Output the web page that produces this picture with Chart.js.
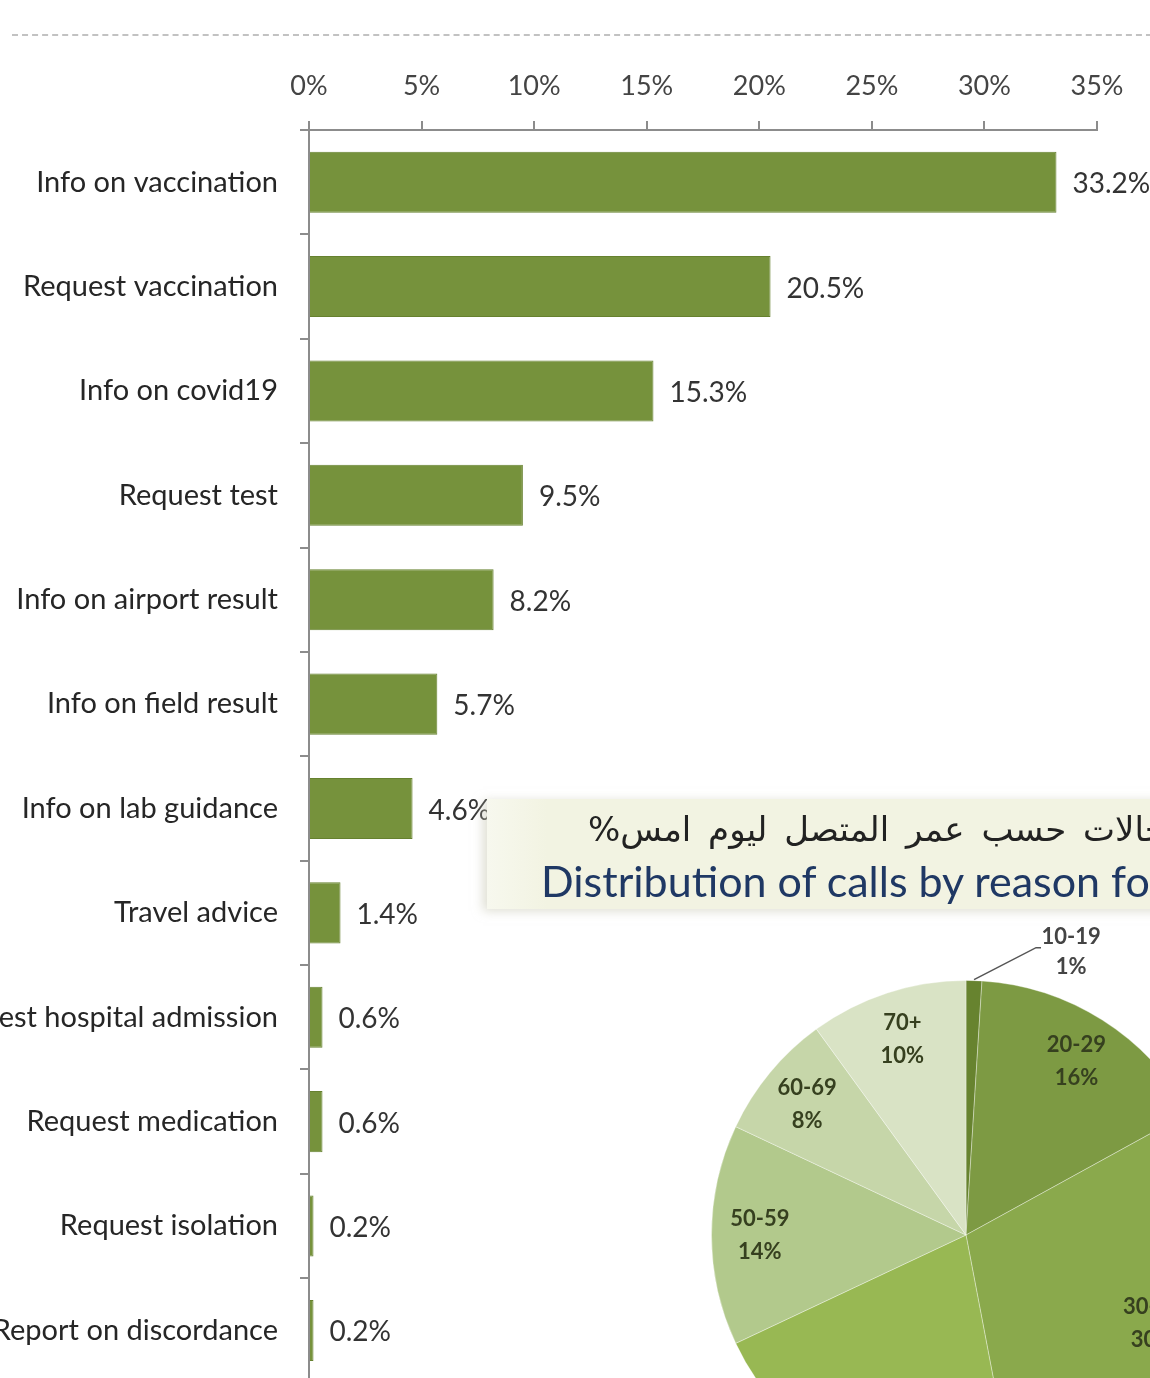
<!DOCTYPE html>
<html>
<head>
<meta charset="utf-8">
<script src="https://cdn.jsdelivr.net/npm/chart.js@4.4.1/dist/chart.umd.min.js"></script>
<style>
  html, body { margin: 0; padding: 0; background: #fff; overflow: hidden; width: 1150px; height: 1378px; }
  #wrap { position: relative; width: 1150px; height: 1378px; overflow: hidden; }
  #dash { position: absolute; left: 12px; top: 34px; width: 1150px; border-top: 2px dashed #c2c2c2; }
  #bars { position: absolute; left: 0; top: 0; }
  #titlebox { position: absolute; left: 487px; top: 799px; width: 720px; height: 110px;
              background: linear-gradient(to right, #f7f8ee 0px, #f2f3e2 60px, #f2f3e2 100%);
              box-shadow: -4px 2px 10px rgba(200,200,180,0.6); }
  #ar { position: absolute; left: 588px; top: 809px; white-space: nowrap; direction: rtl;
        font-family: "DejaVu Sans", sans-serif; font-size: 34px; word-spacing: 6px; color: #222; }
  #en { position: absolute; left: 541px; top: 855px; white-space: nowrap;
        font-family: Lato, sans-serif; font-size: 43px; color: #1f3864; }
  #pie { position: absolute; left: 616px; top: 885px; }
</style>
</head>
<body>
<div id="wrap">
  <div id="dash"></div>
  <canvas id="bars" width="1150" height="1422"></canvas>
  <div id="titlebox"></div>
  <div id="ar">توزيع الحالات حسب عمر المتصل ليوم امس%</div>
  <div id="en">Distribution of calls by reason for</div>
  <canvas id="pie" width="700" height="700"></canvas>
</div>
<script>
// ── DATOS ──
var reasonLabels = ['Info on vaccination', 'Request vaccination', 'Info on covid19', 'Request test',
    'Info on airport result', 'Info on field result', 'Info on lab guidance', 'Travel advice',
    'Request hospital admission', 'Request medication', 'Request isolation', 'Report on discordance'];
var reasonValues = [33.2, 20.5, 15.3, 9.5, 8.2, 5.7, 4.6, 1.4, 0.6, 0.6, 0.2, 0.2];
var xTicks = [0, 5, 10, 15, 20, 25, 30, 35];

var ageLabels = ['10-19', '20-29', '30-39', '40-49', '50-59', '60-69', '70+'];
var ageValues = [1, 16, 30, 21, 14, 8, 10];
var ageColors = ['#67832f', '#7d9a43', '#8aa94c', '#98b853', '#b2c98c', '#c6d6a9', '#d9e3c5'];

// etiquetas de valor al final de cada barra
var barValuePlugin = {
    id: 'barValues',
    afterDatasetsDraw: function(chart) {
        var ctx = chart.ctx;
        var meta = chart.getDatasetMeta(0);
        ctx.save();
        ctx.font = '28px Lato';
        ctx.fillStyle = '#333';
        ctx.textAlign = 'left';
        ctx.textBaseline = 'middle';
        meta.data.forEach(function(bar, i) {
            ctx.fillText(reasonValues[i].toFixed(1) + '%', bar.x + 16, bar.y + 2);
        });
        ctx.restore();
    }
};

new Chart(document.getElementById('bars'), {
    type: 'bar',
    data: {
        labels: reasonLabels,
        datasets: [{
            data: reasonValues,
            backgroundColor: '#76923c',
            borderColor: '#66812f',
            borderWidth: 1,
            categoryPercentage: 1,
            barPercentage: 0.585
        }]
    },
    options: {
        indexAxis: 'y',
        responsive: false,
        animation: false,
        layout: { padding: { left: 0, right: 53, top: 0, bottom: 6 } },
        plugins: { legend: { display: false }, tooltip: { enabled: false } },
        scales: {
            x: {
                position: 'top',
                min: 0, max: 35,
                afterBuildTicks: function(s) { s.ticks = xTicks.map(function(v){ return { value: v }; }); },
                afterFit: function(s) { s.height = 130; },
                border: { color: '#8c8c8c', width: 2 },
                grid: { drawOnChartArea: false, tickLength: 9, color: '#8c8c8c', lineWidth: 2 },
                ticks: {
                    callback: function(v) { return v + '%'; },
                    font: { family: 'Lato', size: 27 },
                    color: '#444',
                    padding: 19,
                    maxRotation: 0
                }
            },
            y: {
                afterFit: function(s) { s.width = 309; },
                border: { color: '#8c8c8c', width: 2 },
                grid: { drawOnChartArea: false, tickLength: 9, color: '#8c8c8c', lineWidth: 2 },
                ticks: {
                    font: { family: 'Lato', size: 29 },
                    color: '#262626',
                    padding: 22,
                    autoSkip: false
                }
            }
        }
    },
    plugins: [barValuePlugin]
});

// etiquetas dentro de la torta (y la de 10-19 con linea guia)
var pieLabelPlugin = {
    id: 'pieLabels',
    afterDatasetsDraw: function(chart) {
        var ctx = chart.ctx;
        var meta = chart.getDatasetMeta(0);
        ctx.save();
        ctx.fillStyle = '#36401f';
        ctx.textAlign = 'center';
        ctx.textBaseline = 'middle';
        ctx.font = 'bold 22px Lato';
        meta.data.forEach(function(arc, i) {
            var mid = (arc.startAngle + arc.endAngle) / 2;
            var r = arc.outerRadius;
            var txt = ageValues[i] + '%';
            if (i === 0) {
                var sx = arc.x + Math.cos(mid) * (r + 1);
                var sy = arc.y + Math.sin(mid) * (r + 1);
                var ex = sx + 62, ey = sy - 32;
                ctx.strokeStyle = '#555';
                ctx.lineWidth = 1.5;
                ctx.beginPath();
                ctx.moveTo(sx, sy);
                ctx.lineTo(ex, ey);
                ctx.lineTo(ex + 5, ey);
                ctx.stroke();
                ctx.fillStyle = '#444';
                ctx.fillText(ageLabels[i], ex + 35, ey - 11);
                ctx.fillText(txt, ex + 35, ey + 19);
                ctx.fillStyle = '#36401f';
                return;
            }
            var lx = arc.x + Math.cos(mid) * r * 0.81;
            var ly = arc.y + Math.sin(mid) * r * 0.81;
            ctx.fillText(ageLabels[i], lx, ly - 16);
            ctx.fillText(txt, lx, ly + 17);
        });
        ctx.restore();
    }
};

new Chart(document.getElementById('pie'), {
    type: 'pie',
    data: {
        labels: ageLabels,
        datasets: [{
            data: ageValues,
            backgroundColor: ageColors,
            borderColor: 'rgba(255,255,255,0.35)',
            borderWidth: 1,
            hoverOffset: 0,
            offset: 0
        }]
    },
    options: {
        responsive: false,
        animation: false,
        layout: { padding: 95 },
        plugins: { legend: { display: false }, tooltip: { enabled: false } }
    },
    plugins: [pieLabelPlugin]
});
</script>
</body>
</html>
